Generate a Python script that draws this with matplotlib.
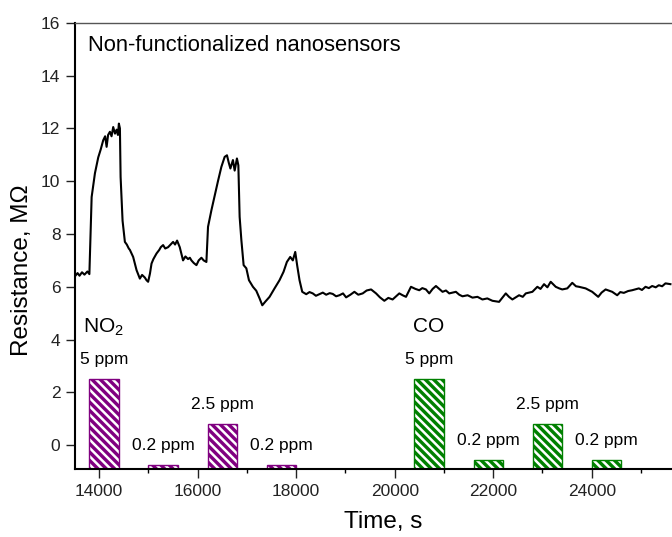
import matplotlib
matplotlib.use("Agg")
import matplotlib.pyplot as plt

plt.rcParams['font.family'] = ['Liberation Sans', 'DejaVu Sans']
plt.rcParams['mathtext.default'] = 'regular'
plt.rcParams['hatch.linewidth'] = 1.8

# Resistance trace (time in s, resistance in MOhm)
time_s = [13508, 13560, 13600, 13650, 13700, 13760, 13800, 13846, 13913, 13980,
          14030, 14081, 14120, 14150, 14180, 14217, 14250, 14284, 14320, 14353,
          14380, 14399, 14420, 14434, 14474, 14521, 14560, 14600, 14622, 14689,
          14758, 14825, 14870, 14926, 14960, 14993, 15030, 15062, 15100, 15163,
          15220, 15250, 15297, 15340, 15398, 15450, 15500, 15540, 15581, 15635,
          15702, 15750, 15803, 15840, 15872, 15920, 15974, 16020, 16075, 16120,
          16176, 16209, 16278, 16344, 16411, 16480, 16547, 16594, 16630, 16663,
          16715, 16750, 16796, 16825, 16851, 16886, 16932, 16987, 17040, 17121,
          17189, 17256, 17311, 17378, 17459, 17560, 17661, 17743, 17810, 17878,
          17931, 17980, 18020, 18067, 18122, 18203, 18270, 18336, 18400, 18472,
          18540, 18608, 18680, 18742, 18810, 18877, 18950, 19013, 19100, 19181,
          19260, 19350, 19430, 19520, 19621, 19700, 19789, 19870, 19957, 20093,
          20160, 20229, 20330, 20420, 20498, 20560, 20634, 20701, 20770, 20837,
          20971, 21040, 21107, 21242, 21310, 21376, 21480, 21579, 21680, 21781,
          21880, 21984, 22119, 22255, 22320, 22389, 22525, 22600, 22661, 22795,
          22896, 22960, 23032, 23100, 23167, 23269, 23340, 23402, 23504, 23605,
          23680, 23741, 23876, 24010, 24132, 24200, 24282, 24416, 24517, 24580,
          24652, 24740, 24821, 24957, 25020, 25092, 25160, 25227, 25300, 25362,
          25430, 25497, 25598]
resistance = [6.40, 6.52, 6.42, 6.55, 6.46, 6.58, 6.48, 9.40, 10.30, 10.90,
              11.20, 11.55, 11.70, 11.30, 11.75, 11.87, 11.70, 12.05, 11.80, 11.95,
              11.75, 12.18, 12.00, 10.16, 8.50, 7.70, 7.60, 7.45, 7.40, 7.13,
              6.63, 6.31, 6.45, 6.35, 6.25, 6.19, 6.50, 6.88, 7.05, 7.26,
              7.40, 7.50, 7.58, 7.45, 7.50, 7.60, 7.70, 7.60, 7.75, 7.50,
              7.00, 7.15, 7.05, 7.10, 7.00, 6.90, 6.82, 7.00, 7.10, 7.00,
              6.94, 8.27, 8.90, 9.45, 10.00, 10.54, 10.92, 10.98, 10.70, 10.48,
              10.80, 10.40, 10.86, 10.60, 8.65, 7.77, 6.82, 6.70, 6.25, 6.00,
              5.85, 5.56, 5.30, 5.45, 5.62, 5.94, 6.25, 6.57, 6.94, 7.13,
              7.00, 7.32, 6.80, 6.25, 5.81, 5.72, 5.80, 5.75, 5.66, 5.72,
              5.78, 5.70, 5.76, 5.73, 5.64, 5.68, 5.75, 5.60, 5.70, 5.81,
              5.70, 5.75, 5.86, 5.90, 5.75, 5.60, 5.47, 5.58, 5.52, 5.75,
              5.68, 5.62, 6.00, 5.92, 5.87, 5.95, 5.90, 5.75, 5.92, 6.03,
              5.81, 5.86, 5.75, 5.81, 5.70, 5.64, 5.68, 5.59, 5.62, 5.52,
              5.56, 5.47, 5.43, 5.75, 5.62, 5.52, 5.68, 5.62, 5.75, 5.81,
              6.00, 5.92, 6.10, 5.98, 6.19, 6.00, 5.94, 5.90, 5.94, 6.15,
              6.02, 6.00, 5.94, 5.81, 5.62, 5.78, 5.90, 5.81, 5.68, 5.80,
              5.77, 5.84, 5.87, 5.94, 5.88, 6.00, 5.95, 6.03, 5.98, 6.06,
              6.02, 6.13, 6.10]

# Gas exposure bars (top of each bar in axis units)
no2_time = [14100, 15300, 16500, 17700]
no2_top = [2.5, -0.75, 0.8, -0.75]
no2_labels = ['5 ppm', '0.2 ppm', '2.5 ppm', '0.2 ppm']
co_time = [20700, 21900, 23100, 24300]
co_top = [2.5, -0.57, 0.8, -0.57]
co_labels = ['5 ppm', '0.2 ppm', '2.5 ppm', '0.2 ppm']

y_bottom = -0.9
x_ticks = [14000, 16000, 18000, 20000, 22000, 24000]
y_ticks = [0, 2, 4, 6, 8, 10, 12, 14, 16]

purple = '#800080'
green = '#008000'

fig = plt.figure(figsize=(6.72, 5.37), dpi=100)
ax = fig.add_axes([0.1116, 0.1266, 0.8884, 0.8311])

ax.plot(time_s, resistance, color='black', lw=1.5, zorder=3)

bar_w = 600
for xs, tops, labs, col in [(no2_time, no2_top, no2_labels, purple),
                            (co_time, co_top, co_labels, green)]:
    heights = [t - y_bottom for t in tops]
    ax.bar(xs, heights, width=bar_w, bottom=y_bottom, color=col,
           edgecolor='white', hatch='\\\\\\\\', linewidth=0, zorder=2)
    ax.bar(xs, heights, width=bar_w, bottom=y_bottom, fill=False,
           edgecolor=col, linewidth=1.0, zorder=2)
    for x, t, lab in zip(xs, tops, labs):
        ax.annotate(lab, (x, t), xytext=(0, 8.5), textcoords='offset points',
                    ha='center', va='bottom', fontsize=12.5)

ax.text(14080, 4.45, 'NO$_2$', fontsize=15, ha='center', va='center')
ax.text(20680, 4.5, 'CO', fontsize=15, ha='center', va='center')
ax.text(0.022, 0.95, 'Non-functionalized nanosensors', transform=ax.transAxes,
        fontsize=15.8, ha='left', va='center')

ax.set_xlim(13508, 25630)
ax.set_ylim(y_bottom, 16)
ax.set_xticks(x_ticks)
ax.set_xticks([15000, 17000, 19000, 21000, 23000, 25000], minor=True)
ax.set_yticks(y_ticks)
ax.tick_params(axis='both', which='major', direction='out', length=6.5,
               width=1.0, labelsize=12.5, pad=4, colors='#222222')
ax.tick_params(axis='x', which='minor', direction='out', length=3, width=1.0)

ax.spines['right'].set_visible(False)
ax.spines['top'].set_color('#555555')
ax.spines['top'].set_linewidth(1.0)
ax.spines['left'].set_linewidth(1.5)
ax.spines['bottom'].set_linewidth(1.5)

ax.set_xlabel('Time, s', fontsize=17.5)
ax.set_ylabel('Resistance, M\u03a9', fontsize=17.5)
ax.xaxis.set_label_coords(0.516, -0.095)
ax.yaxis.set_label_coords(-0.07, 0.446)

fig.savefig('out.png', dpi=100)
